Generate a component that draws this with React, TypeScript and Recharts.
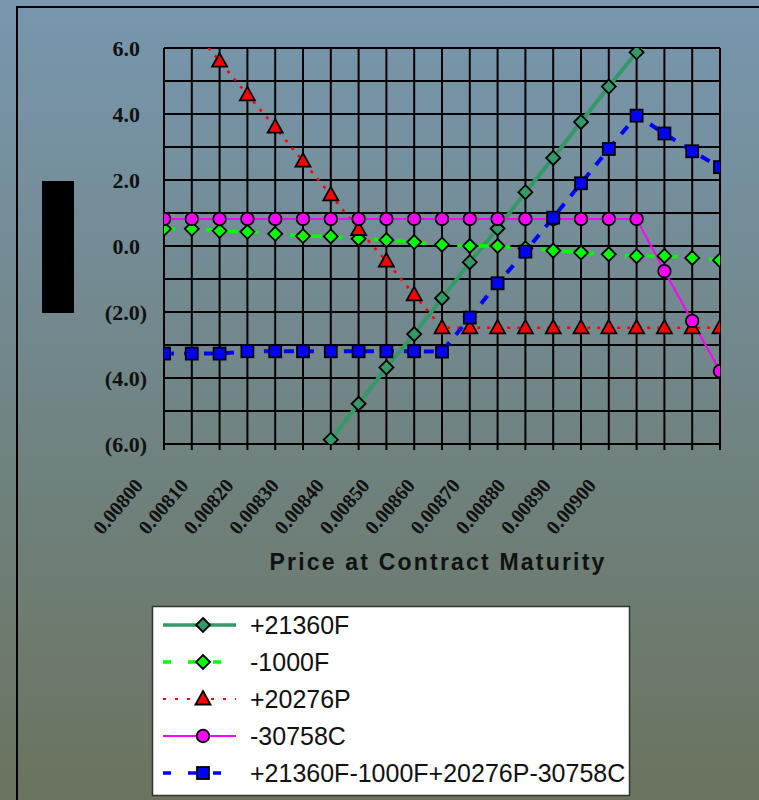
import React from "react"
import { LineChart, Line, XAxis, YAxis, CartesianGrid } from "recharts"

// price at contract maturity, one row per step
const prices = [
  0.008, 0.00805, 0.0081, 0.00815, 0.0082, 0.00825, 0.0083, 0.00835, 0.0084, 0.00845, 0.0085,
  0.00855, 0.0086, 0.00865, 0.0087, 0.00875, 0.0088, 0.00885, 0.0089, 0.00895, 0.009,
]

// payoffs per position (null = off the chart)
const longFuture = [null, null, null, null, null, -6.95, -5.87, -4.78, -3.68, -2.67, -1.58, -0.49, 0.53, 1.63, 2.67, 3.76, 4.83, 5.87, 6.95, null, null]
const shortFuture = [0.52, 0.52, 0.46, 0.43, 0.37, 0.3, 0.29, 0.22, 0.18, 0.12, 0.04, 0.0, 0.0, -0.07, -0.14, -0.2, -0.25, -0.31, -0.3, -0.36, -0.43]
const longPut = [7.65, 6.63, 5.6, 4.58, 3.6, 2.57, 1.55, 0.5, -0.46, -1.48, -2.48, -2.48, -2.48, -2.48, -2.48, -2.48, -2.48, -2.48, -2.48, -2.48, -2.48]
const shortCall = [0.82, 0.82, 0.82, 0.82, 0.82, 0.82, 0.82, 0.82, 0.82, 0.82, 0.82, 0.82, 0.82, 0.82, 0.82, 0.82, 0.82, 0.82, -0.76, -2.27, -3.79]
const combined = [-3.26, -3.26, -3.26, -3.19, -3.19, -3.19, -3.19, -3.19, -3.19, -3.19, -3.2, -2.17, -1.13, -0.17, 0.86, 1.9, 2.94, 3.95, 3.41, 2.87, 2.39]

const yTicks = [-6, -5, -4, -3, -2, -1, 0, 1, 2, 3, 4, 5, 6]

const series = [
  { key: "longFuture", name: "+21360F", color: "#339966", width: 4, dash: undefined, legendDash: undefined, legendWidth: 3.5, marker: "diamond" },
  { key: "shortFuture", name: "-1000F", color: "#00FF00", width: 3.5, dash: "11 10", legendDash: "8 17", legendWidth: 3.5, marker: "diamond" },
  { key: "longPut", name: "+20276P", color: "#FF0000", width: 2.5, dash: "3 7", legendDash: "3 9", legendWidth: 2, marker: "triangle" },
  { key: "shortCall", name: "-30758C", color: "#FF00FF", width: 2, dash: undefined, legendDash: undefined, legendWidth: 2, marker: "circle" },
  { key: "combined", name: "+21360F-1000F+20276P-30758C", color: "#0000FF", width: 4, dash: "10 10", legendDash: "8 17", legendWidth: 3.5, marker: "square" },
]

const data = prices.map((price, i) => ({
  price,
  longFuture: longFuture[i],
  shortFuture: shortFuture[i],
  longPut: longPut[i],
  shortCall: shortCall[i],
  combined: combined[i],
}))

function Marker({ cx, cy, shape, fill }: any) {
  const st = { fill, stroke: "#000", strokeWidth: 1.8 }
  if (shape === "diamond") {
    return <polygon points={`${cx},${cy - 7} ${cx + 7},${cy} ${cx},${cy + 7} ${cx - 7},${cy}`} {...st} />
  }
  if (shape === "triangle") {
    return <polygon points={`${cx},${cy - 8} ${cx + 7.5},${cy + 5.5} ${cx - 7.5},${cy + 5.5}`} {...st} />
  }
  if (shape === "circle") {
    return <circle cx={cx} cy={cy} r={6.3} {...st} />
  }
  return <rect x={cx - 6} y={cy - 6} width={12} height={12} {...st} />
}

const fmtValue = (v: number) => (v < 0 ? `(${Math.abs(v).toFixed(1)})` : v.toFixed(1))

function ValueTick({ y, payload }: any) {
  if (payload.value % 2 !== 0) return <g />
  const neg = payload.value < 0
  return (
    <text
      x={neg ? 147 : 140}
      y={y}
      dy={7.5}
      textAnchor="end"
      fontFamily="'Liberation Serif', 'Times New Roman', serif"
      fontWeight="bold"
      fontSize={22}
      fill="#111"
    >
      {fmtValue(payload.value)}
    </text>
  )
}

function PriceTick({ x, payload, index }: any) {
  if (index % 2 !== 0) return <g />
  // labels sit on a slightly tighter pitch than the ticks
  const ax = 144 + (x - 164) * 0.815
  const ay = 486
  return (
    <text
      x={ax}
      y={ay}
      transform={`rotate(-50 ${ax} ${ay})`}
      textAnchor="end"
      fontFamily="'Liberation Serif', 'Times New Roman', serif"
      fontWeight="bold"
      fontSize={20}
      fill="#111"
    >
      {payload.value.toFixed(5)}
    </text>
  )
}

function LegendBox() {
  const rowY = [625, 662, 699, 736, 773]
  return (
    <svg width={480} height={192} style={{ position: "absolute", left: 151, top: 605 }}>
      <rect x={1.5} y={1.5} width={477} height={189} fill="#fff" stroke="#333" strokeWidth={1.5} />
      {series.map((s, i) => {
        const cy = rowY[i] - 605
        return (
          <g key={s.key}>
            <line x1={12} x2={85} y1={cy} y2={cy} stroke={s.color} strokeWidth={s.legendWidth} strokeDasharray={s.legendDash} />
            <Marker cx={52} cy={cy} shape={s.marker} fill={s.color} />
            <text x={99} y={cy + 8.5} fontFamily="'Liberation Sans', Arial, sans-serif" fontSize={25} fill="#111">
              {s.name}
            </text>
          </g>
        )
      })}
    </svg>
  )
}

export default function App() {
  return (
    <div
      style={{
        position: "fixed",
        left: 0,
        top: 0,
        width: 759,
        height: 800,
        overflow: "hidden",
        background: "linear-gradient(#7897AE, #6A735E)",
      }}
    >
      <div style={{ position: "absolute", left: 16, top: 6, width: 800, height: 850, borderLeft: "2px solid #000", borderTop: "2px solid #000" }} />
      <div style={{ position: "absolute", left: 0, top: 0 }}>
        <LineChart width={759} height={600} data={data} margin={{ top: 48, right: 39, left: 0, bottom: 0 }}>
          <CartesianGrid stroke="#000" strokeWidth={2} />
          <XAxis
            dataKey="price"
            type="number"
            domain={[0.008, 0.009]}
            ticks={prices}
            interval={0}
            allowDataOverflow
            height={156}
            axisLine={{ stroke: "#000", strokeWidth: 2 }}
            tickLine={{ stroke: "#000", strokeWidth: 2 }}
            tickSize={6}
            tick={<PriceTick />}
            label={{
              content: () => (
                <text
                  x={438}
                  y={570}
                  textAnchor="middle"
                  fontFamily="'Liberation Sans', Arial, sans-serif"
                  fontWeight="bold"
                  fontSize={23}
                  letterSpacing={2.2}
                  fill="#111"
                >
                  Price at Contract Maturity
                </text>
              ),
            }}
          />
          <YAxis
            type="number"
            domain={[-6, 6]}
            ticks={yTicks}
            interval={0}
            allowDataOverflow
            width={164}
            axisLine={{ stroke: "#000", strokeWidth: 2 }}
            tickLine={false}
            tick={<ValueTick />}
            label={{ content: () => <rect x={42} y={181} width={32} height={132} fill="#000" /> }}
          />
          {series.map((s) => (
            <Line
              key={s.key}
              dataKey={s.key}
              name={s.name}
              type="linear"
              stroke={s.color}
              strokeWidth={s.width}
              strokeDasharray={s.dash}
              isAnimationActive={false}
              dot={(p: any) =>
                p.value == null || p.cy == null ? (
                  <g key={p.index} />
                ) : (
                  <Marker key={p.index} cx={p.cx} cy={p.cy} shape={s.marker} fill={s.color} />
                )
              }
              activeDot={false}
            />
          ))}
        </LineChart>
      </div>
      <LegendBox />
    </div>
  )
}
